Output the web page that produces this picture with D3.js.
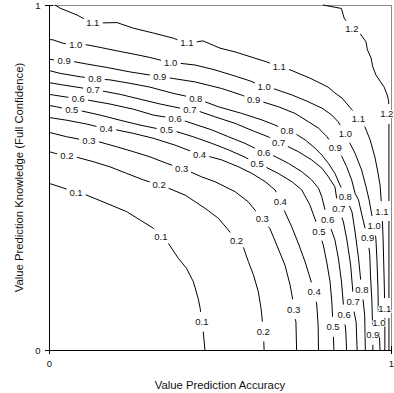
<!DOCTYPE html>
<html>
<head>
<meta charset="utf-8">
<script src="https://cdn.jsdelivr.net/npm/d3@7"></script>
<style>
  body { margin: 0; background: #fff; }
  svg { display: block; }
  text { font-family: "Liberation Sans", Arial, sans-serif; fill: #111; }
</style>
</head>
<body>
<svg id="chart" width="394" height="393"></svg>
<script>
// Contour levels and the traced iso-lines, in data units [accuracy, knowledge]
const contourLevels = [0.1, 0.2, 0.3, 0.4, 0.5, 0.6, 0.7, 0.8, 0.9, 1.0, 1.1, 1.2];

const level01 = [[0,0.483],[0.032,0.473],[0.076,0.458],[0.105,0.451],[0.169,0.425],[0.227,0.401],[0.266,0.377],[0.305,0.353],[0.327,0.329],[0.349,0.309],[0.378,0.266],[0.402,0.237],[0.422,0.198],[0.436,0.150],[0.442,0.121],[0.447,0.082],[0.451,0.053],[0.456,0]];
const level02 = [[0,0.575],[0.018,0.570],[0.047,0.563],[0.076,0.560],[0.129,0.546],[0.178,0.531],[0.227,0.512],[0.276,0.493],[0.325,0.478],[0.349,0.469],[0.398,0.449],[0.456,0.411],[0.495,0.382],[0.520,0.353],[0.549,0.317],[0.568,0.299],[0.583,0.256],[0.598,0.217],[0.612,0.169],[0.620,0.121],[0.624,0.082],[0.627,0.048],[0.629,0]];
const level03 = [[0,0.631],[0.052,0.618],[0.115,0.606],[0.144,0.604],[0.198,0.589],[0.246,0.575],[0.295,0.560],[0.344,0.541],[0.388,0.526],[0.412,0.517],[0.446,0.502],[0.485,0.488],[0.544,0.459],[0.582,0.430],[0.602,0.406],[0.626,0.377],[0.646,0.352],[0.666,0.304],[0.690,0.246],[0.705,0.188],[0.713,0.145],[0.716,0.113],[0.722,0.081],[0.724,0]];
const level04 = [[0,0.674],[0.052,0.666],[0.110,0.655],[0.164,0.642],[0.188,0.640],[0.246,0.628],[0.304,0.614],[0.368,0.594],[0.437,0.568],[0.471,0.560],[0.505,0.551],[0.554,0.531],[0.593,0.512],[0.632,0.488],[0.661,0.464],[0.673,0.441],[0.680,0.420],[0.690,0.400],[0.711,0.354],[0.731,0.304],[0.749,0.255],[0.766,0.200],[0.778,0.159],[0.783,0.130],[0.787,0.072],[0.788,0]];
const level05 = [[0,0.709],[0.022,0.705],[0.057,0.697],[0.086,0.695],[0.149,0.681],[0.208,0.666],[0.266,0.652],[0.315,0.642],[0.334,0.640],[0.373,0.633],[0.422,0.618],[0.476,0.599],[0.525,0.580],[0.573,0.559],[0.602,0.543],[0.632,0.531],[0.670,0.512],[0.710,0.488],[0.739,0.464],[0.763,0.420],[0.781,0.371],[0.792,0.336],[0.802,0.304],[0.812,0.255],[0.822,0.197],[0.827,0.139],[0.831,0.057],[0.833,0]];
const level06 = [[0,0.741],[0.052,0.733],[0.088,0.728],[0.110,0.725],[0.178,0.713],[0.247,0.698],[0.305,0.681],[0.371,0.670],[0.403,0.662],[0.427,0.654],[0.476,0.638],[0.525,0.618],[0.573,0.599],[0.612,0.580],[0.636,0.570],[0.661,0.561],[0.700,0.541],[0.739,0.517],[0.768,0.493],[0.788,0.469],[0.798,0.443],[0.812,0.386],[0.825,0.350],[0.836,0.319],[0.846,0.267],[0.855,0.200],[0.860,0.142],[0.864,0.091],[0.868,0.052],[0.870,0]];
const level07 = [[0,0.775],[0.042,0.768],[0.120,0.756],[0.149,0.752],[0.208,0.741],[0.266,0.727],[0.325,0.713],[0.364,0.705],[0.398,0.698],[0.427,0.696],[0.485,0.676],[0.544,0.657],[0.602,0.633],[0.641,0.618],[0.666,0.604],[0.690,0.594],[0.729,0.575],[0.768,0.551],[0.798,0.527],[0.817,0.502],[0.836,0.473],[0.842,0.434],[0.851,0.399],[0.861,0.371],[0.871,0.319],[0.882,0.246],[0.888,0.174],[0.890,0.121],[0.898,0.081],[0.901,0]];
const level08 = [[0,0.810],[0.032,0.802],[0.091,0.792],[0.149,0.785],[0.178,0.783],[0.237,0.773],[0.295,0.762],[0.363,0.744],[0.427,0.730],[0.442,0.725],[0.495,0.705],[0.563,0.686],[0.622,0.667],[0.661,0.652],[0.695,0.636],[0.719,0.628],[0.749,0.609],[0.778,0.585],[0.798,0.565],[0.817,0.541],[0.836,0.512],[0.851,0.478],[0.863,0.452],[0.874,0.428],[0.886,0.400],[0.895,0.342],[0.905,0.267],[0.912,0.197],[0.918,0.149],[0.923,0.101],[0.925,0]];
const level09 = [[0,0.843],[0.013,0.841],[0.032,0.839],[0.061,0.838],[0.110,0.829],[0.169,0.819],[0.237,0.806],[0.295,0.797],[0.344,0.790],[0.363,0.787],[0.427,0.777],[0.505,0.758],[0.563,0.739],[0.598,0.725],[0.622,0.720],[0.671,0.705],[0.719,0.686],[0.758,0.662],[0.788,0.643],[0.812,0.619],[0.841,0.582],[0.856,0.561],[0.870,0.532],[0.885,0.493],[0.895,0.454],[0.905,0.435],[0.915,0.391],[0.924,0.354],[0.933,0.319],[0.938,0.275],[0.940,0.217],[0.944,0.145],[0.946,0.072],[0.947,0.036],[0.947,0]];
const level10 = [[0,0.900],[0.012,0.899],[0.041,0.889],[0.070,0.884],[0.096,0.887],[0.140,0.879],[0.199,0.867],[0.246,0.858],[0.295,0.848],[0.354,0.833],[0.383,0.831],[0.427,0.826],[0.485,0.812],[0.544,0.794],[0.588,0.780],[0.632,0.762],[0.661,0.756],[0.711,0.739],[0.757,0.720],[0.798,0.701],[0.827,0.681],[0.845,0.662],[0.857,0.643],[0.871,0.620],[0.880,0.599],[0.895,0.570],[0.914,0.522],[0.927,0.473],[0.936,0.435],[0.944,0.391],[0.953,0.351],[0.956,0.319],[0.959,0.261],[0.962,0.174],[0.963,0.101],[0.965,0.072],[0.966,0.043],[0.968,0]];
const level11 = [[0.018,1.0],[0.032,0.991],[0.082,0.971],[0.099,0.962],[0.126,0.948],[0.149,0.948],[0.199,0.949],[0.246,0.933],[0.304,0.919],[0.363,0.904],[0.398,0.891],[0.430,0.893],[0.450,0.896],[0.500,0.875],[0.544,0.864],[0.637,0.835],[0.675,0.820],[0.705,0.812],[0.763,0.788],[0.816,0.762],[0.836,0.745],[0.857,0.730],[0.886,0.696],[0.904,0.672],[0.924,0.646],[0.939,0.609],[0.953,0.559],[0.962,0.513],[0.968,0.478],[0.974,0.397],[0.977,0.319],[0.980,0.203],[0.982,0.113],[0.982,0]];
const level12 = [[0.801,1.0],[0.855,0.990],[0.863,0.962],[0.883,0.933],[0.906,0.922],[0.927,0.893],[0.931,0.870],[0.942,0.846],[0.946,0.823],[0.956,0.797],[0.980,0.762],[0.990,0.736],[0.993,0.722],[0.994,0.704],[0.994,0]];

const contourLines = [level01, level02, level03, level04, level05, level06,
                      level07, level08, level09, level10, level11, level12];

const xTickValues = [0, 1];
const yTickValues = [0, 1];
const xTitle = "Value Prediction Accuracy";
const yTitle = "Value Prediction Knowledge (Full Confidence)";

// ---- layout ----
const svg = d3.select("#chart");
const W = 394;
const plotLeft = 49, plotRight = 391, plotTop = 5, plotBottom = 350;
const xScale = d3.scaleLinear().domain([0, 1]).range([plotLeft, plotRight]);
const yScale = d3.scaleLinear().domain([0, 1]).range([plotBottom, plotTop]);

const labelSpacing = 97;   // px between inline labels along a contour
const labelGap = 20;       // px of line removed around each label
const labelFont = 9.5;
const labelW = 13.4, labelH = 11;   // approximate label box
const fmt = d3.format(".1f");

// frame (top and right edges)
svg.append("line").attr("x1", plotLeft).attr("x2", plotRight).attr("y1", plotTop + 0.5).attr("y2", plotTop + 0.5)
  .attr("stroke", "#8a8a8a").attr("stroke-width", 1);
svg.append("line").attr("x1", plotRight + 0.5).attr("x2", plotRight + 0.5).attr("y1", plotTop).attr("y2", plotBottom)
  .attr("stroke", "#8a8a8a").attr("stroke-width", 1);

// arc-length helpers for a screen-space polyline
function measure(pts) {
  const cum = [0];
  for (let i = 1; i < pts.length; i++) {
    cum.push(cum[i - 1] + Math.hypot(pts[i][0] - pts[i - 1][0], pts[i][1] - pts[i - 1][1]));
  }
  const pointAt = s => {
    let i = d3.bisectRight(cum, s) - 1;
    i = Math.max(0, Math.min(pts.length - 2, i));
    const seg = cum[i + 1] - cum[i] || 1;
    const t = (s - cum[i]) / seg;
    return [pts[i][0] + t * (pts[i + 1][0] - pts[i][0]), pts[i][1] + t * (pts[i + 1][1] - pts[i][1])];
  };
  const piece = (a, b) => {
    const out = [pointAt(a)];
    for (let i = 0; i < pts.length; i++) if (cum[i] > a && cum[i] < b) out.push(pts[i]);
    out.push(pointAt(b));
    return out;
  };
  return { L: cum[cum.length - 1], pointAt, piece };
}

function boxAt(p) {
  const cx = Math.min(p[0], W - labelW / 2 - 0.5);
  return [cx - labelW / 2, p[1] - labelH / 2, cx + labelW / 2, p[1] + labelH / 2];
}
function overlapArea(a, b) {
  const ox = Math.min(a[2], b[2]) - Math.max(a[0], b[0]);
  const oy = Math.min(a[3], b[3]) - Math.max(a[1], b[1]);
  return ox > 0 && oy > 0 ? ox * oy : 0;
}

const placed = [];
const labelData = [];
const pieces = [];

contourLines.forEach((raw, li) => {
  const pts = raw.map(d => [xScale(d[0]), yScale(d[1])]);
  const m = measure(pts);
  const n = Math.max(1, Math.floor(m.L / labelSpacing + 0.73));
  const start = (m.L - (n - 1) * labelSpacing) / 2;
  const marks = d3.range(n).map(k => start + k * labelSpacing);

  // slide each label a few px along its line if it collides with one already placed
  const finalMarks = marks.map(s0 => {
    const shifts = [0, -2, 2, -4, 4, -6, 6, -8, 8];
    for (const ds of shifts) {
      const s = Math.max(0, Math.min(m.L, s0 + ds));
      const box = boxAt(m.pointAt(s));
      if (!placed.some(b => overlapArea(b, box) > 0)) return { s, box, show: true };
    }
    const box = boxAt(m.pointAt(s0));
    const show = !placed.some(b => overlapArea(b, box) > 0.3 * labelW * labelH);
    return { s: s0, box, show };
  });

  finalMarks.forEach(f => {
    if (f.show) {
      placed.push(f.box);
      labelData.push({ x: (f.box[0] + f.box[2]) / 2, y: (f.box[1] + f.box[3]) / 2, text: fmt(contourLevels[li]) });
    }
  });

  let s0 = 0;
  finalMarks.forEach(f => {
    const a = f.s - labelGap / 2, b = f.s + labelGap / 2;
    if (a > s0) pieces.push(m.piece(s0, a));
    s0 = Math.max(s0, b);
  });
  if (s0 < m.L) pieces.push(m.piece(s0, m.L));
});

svg.append("g").attr("fill", "none").attr("stroke", "#000").attr("stroke-width", 1)
  .selectAll("path").data(pieces).enter().append("path").attr("d", d3.line());

svg.append("g").selectAll("text").data(labelData).enter().append("text")
  .attr("x", d => d.x).attr("y", d => d.y)
  .attr("text-anchor", "middle").attr("dominant-baseline", "central")
  .attr("font-size", labelFont + "px")
  .attr("stroke", "#fff").attr("stroke-width", 2).attr("paint-order", "stroke")
  .text(d => d.text);

// axes
const gx = svg.append("g").attr("transform", `translate(0,${plotBottom})`)
  .call(d3.axisBottom(xScale).tickValues(xTickValues).tickFormat(d3.format("d"))
    .tickSize(4).tickSizeOuter(0).tickPadding(6));
gx.selectAll(".tick line").attr("y1", -4);
const gy = svg.append("g").attr("transform", `translate(${plotLeft},0)`)
  .call(d3.axisLeft(yScale).tickValues(yTickValues).tickFormat(d3.format("d"))
    .tickSize(4).tickSizeOuter(0).tickPadding(4.5));
gy.selectAll(".tick line").attr("x1", 4);
[gx, gy].forEach(g => {
  g.selectAll(".domain").attr("stroke", "#000");
  g.selectAll(".tick line").attr("stroke", "#000");
  g.selectAll("text").attr("font-size", "9.5px").attr("fill", "#111")
    .attr("font-family", "'Liberation Sans', Arial, sans-serif");
});

// axis titles
svg.append("text").attr("x", (plotLeft + plotRight) / 2).attr("y", 389)
  .attr("text-anchor", "middle").attr("font-size", "11.3px").text(xTitle);
svg.append("text").attr("transform", `translate(23,${(plotTop + plotBottom) / 2}) rotate(-90)`)
  .attr("text-anchor", "middle").attr("font-size", "11.3px").text(yTitle);
</script>
</body>
</html>
